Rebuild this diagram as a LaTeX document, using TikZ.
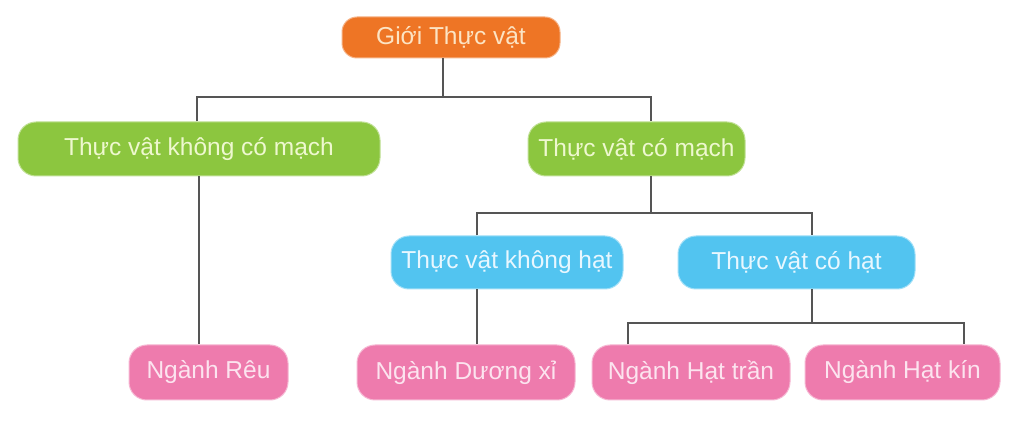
\documentclass[tikz,border=0pt]{standalone}
\usepackage{fontspec}
\setmainfont{Liberation Sans}
\definecolor{corange}{HTML}{EE7525}
\definecolor{cgreen}{HTML}{8CC63F}
\definecolor{cblue}{HTML}{52C4F0}
\definecolor{cpink}{HTML}{EE7BAD}
\definecolor{tor}{HTML}{FCE4C4}
\definecolor{tgr}{HTML}{EEF8CF}
\definecolor{tbl}{HTML}{E8F7FF}
\definecolor{tpk}{HTML}{FCE4EF}
\definecolor{cline}{HTML}{555555}
\tikzset{
  box/.style={rounded corners=18pt, inner sep=0pt, font=\fontsize{24.5}{28}\selectfont, line width=1pt},
  orbox/.style={box, rounded corners=15pt, fill=corange, draw=corange!55!white, text=tor},
  grbox/.style={box, fill=cgreen, draw=cgreen!55!white, text=tgr},
  blbox/.style={box, fill=cblue, draw=cblue!55!white, text=tbl},
  pkbox/.style={box, fill=cpink, draw=cpink!55!white, text=tpk},
  conn/.style={draw=cline, line width=1.8pt},
}
\begin{document}
\begin{tikzpicture}[x=1pt,y=-1pt]
\useasboundingbox[fill=white] (0,0) rectangle (1020,443);
\coordinate (b1) at (443,97);
\coordinate (l1) at (197,97);
\coordinate (r1) at (651,97);
\coordinate (b2) at (651,213);
\coordinate (l2) at (477,213);
\coordinate (r2) at (812,213);
\coordinate (b3) at (812,323);
\coordinate (l3) at (628,323);
\coordinate (r3) at (964,323);
\coordinate (m1) at (199,300);
% nodes
\node[orbox, minimum width=218pt, minimum height=41pt] (org) at (451,37.5) {Giới Thực vật};
\node[grbox, minimum width=362pt, minimum height=54pt] (gl) at (199,149) {Thực vật không có mạch};
\node[grbox, minimum width=217pt, minimum height=54pt] (gr) at (636.5,149) {Thực vật có mạch};
\node[blbox, minimum width=232pt, minimum height=53pt] (bl) at (507,262.5) {Thực vật không hạt};
\node[blbox, minimum width=237pt, minimum height=53pt] (br) at (796.5,262.5) {Thực vật có hạt};
\node[pkbox, minimum width=159pt, minimum height=55pt] (p1) at (208.5,372.5) {Ngành Rêu};
\node[pkbox, minimum width=218pt, minimum height=55pt] (p2) at (466,372.5) {Ngành Dương xỉ};
\node[pkbox, minimum width=198pt, minimum height=55pt] (p3) at (691,372.5) {Ngành Hạt trần};
\node[pkbox, minimum width=195pt, minimum height=55pt] (p4) at (902.5,372.5) {Ngành Hạt kín};
% connectors
\draw[conn] (org.south -| b1) -- (b1);
\draw[conn] (gl.north -| l1) -- (l1) -- (r1) -- (gr.north -| r1);
\draw[conn] (gl.south -| m1) -- (p1.north -| m1);
\draw[conn] (gr.south -| b2) -- (b2);
\draw[conn] (bl.north -| l2) -- (l2) -- (r2) -- (br.north -| r2);
\draw[conn] (bl.south -| l2) -- (p2.north -| l2);
\draw[conn] (br.south -| b3) -- (b3);
\draw[conn] (p3.north -| l3) -- (l3) -- (r3) -- (p4.north -| r3);
\end{tikzpicture}
\end{document}
